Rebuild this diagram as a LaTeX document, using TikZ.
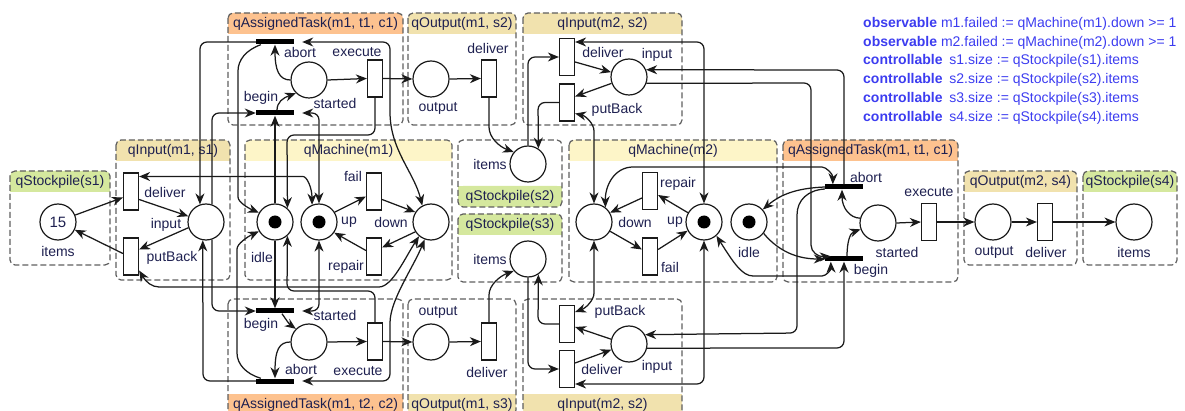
\documentclass[tikz,border=0pt]{standalone}
\usepackage{fontspec}
\setmainfont{Liberation Sans}
\usetikzlibrary{arrows.meta,calc}
\definecolor{hdrO}{HTML}{FDC28F}
\definecolor{hdrT}{HTML}{F1E2AE}
\definecolor{hdrY}{HTML}{FDF5C8}
\definecolor{hdrG}{HTML}{D5E89E}
\definecolor{bordc}{HTML}{5F5F5F}
\definecolor{lbc}{HTML}{1E2050}
\definecolor{obsc}{HTML}{3C3CF0}
\definecolor{arcc}{HTML}{1A1A1A}
\newcommand\lbfont{\fontsize{14}{16}\selectfont}
\newcommand\pnltop[7]{%
  \fill[#6, rounded corners=5pt] (#2,#3) rectangle (#4,{#3+21});
  \fill[#6] (#2,{#3+12}) rectangle (#4,{#3+21});
  \draw[bordc, line width=1.2pt, dash pattern=on 6pt off 3pt, rounded corners=5pt] (#2,#3) rectangle (#4,#5);
  \node[lb] (#1) at ({(#2+#4)/2},{#3+10.5}) {#7};}
\newcommand\pnlbot[7]{%
  \fill[#6, rounded corners=5pt] (#2,{#5-21}) rectangle (#4,#5);
  \fill[#6] (#2,{#5-21}) rectangle (#4,{#5-12});
  \draw[bordc, line width=1.2pt, dash pattern=on 6pt off 3pt, rounded corners=5pt] (#2,#3) rectangle (#4,#5);
  \node[lb] (#1) at ({(#2+#4)/2},{#5-10.5}) {#7};}
\tikzset{
  pl/.style={circle, draw=arcc, line width=1.2pt, fill=white, minimum size=36pt, inner sep=0pt},
  tk/.style={pl, path picture={\fill[black] (path picture bounding box.center) circle (6.5pt);}},
  tr/.style={rectangle, draw=arcc, line width=1.2pt, fill=white, minimum width=15pt, minimum height=37pt, inner sep=0pt},
  br/.style={rectangle, fill=black, minimum width=38pt, minimum height=5pt, inner sep=0pt},
  lb/.style={font=\lbfont, text=lbc, inner sep=0pt},
  obs/.style={font=\lbfont, text=obsc, inner sep=0pt, anchor=west},
  ar/.style={draw=arcc, line width=1.25pt, rounded corners=7pt, -{Stealth[length=11pt,width=9pt,inset=3.5pt]}},
  rar/.style={ar, {Stealth[length=11pt,width=9pt,inset=3.5pt]}-{Stealth[length=11pt,width=9pt,inset=3.5pt]}},
}
\begin{document}
\begin{tikzpicture}[x=1pt,y=-1pt]
\useasboundingbox (0,0) rectangle (1185,411);
% panels
\pnltop{h1}{10}{171}{110}{265}{hdrG}{qStockpile(s1)}
\pnltop{h2}{116}{140}{230}{280}{hdrT}{qInput(m1, s1)}
\pnltop{h3}{228}{13}{403}{125}{hdrO}{qAssignedTask(m1, t1, c1)}
\pnltop{h4}{408}{13}{516}{125}{hdrT}{qOutput(m1, s2)}
\pnltop{h5}{523}{13}{682}{125}{hdrT}{qInput(m2, s2)}
\pnltop{h6}{245}{140}{452}{280}{hdrY}{qMachine(m1)}
\pnlbot{h7}{458}{140}{562}{207}{hdrG}{qStockpile(s2)}
\pnltop{h8}{458}{214}{562}{282}{hdrG}{qStockpile(s3)}
\pnltop{h9}{569}{140}{777}{282}{hdrY}{qMachine(m2)}
\pnltop{h10}{783}{140}{958}{282}{hdrO}{qAssignedTask(m1, t1, c1)}
\pnltop{h11}{964}{171}{1077}{265}{hdrT}{qOutput(m2, s4)}
\pnltop{h12}{1083}{171}{1177}{265}{hdrG}{qStockpile(s4)}
\pnlbot{h13}{228}{299}{403}{415}{hdrO}{qAssignedTask(m1, t2, c2)}
\pnlbot{h14}{408}{299}{516}{415}{hdrT}{qOutput(m1, s3)}
\pnlbot{h15}{523}{299}{682}{415}{hdrT}{qInput(m2, s2)}
% nodes
\node[pl, text=lbc, font=\fontsize{15}{17}\selectfont] (s1) at (58,222) {15};
\node[tr] (dl1) at (131,191.5) {};
\node[tr] (pb1) at (131,256.5) {};
\node[pl] (in1) at (206,222) {};
\node[br] (abA) at (275,42) {};
\node[br] (bgA) at (275,113) {};
\node[pl] (stA) at (309,80) {};
\node[tr] (exA) at (375,78.5) {};
\node[pl] (ouA) at (431,79) {};
\node[tr] (dvA) at (489,78.5) {};
\node[tr] (dlB) at (567,57) {};
\node[tr] (pbB) at (567,102.5) {};
\node[pl] (inB) at (629,77) {};
\node[tk] (id1) at (275,222) {};
\node[tk] (up1) at (319,222) {};
\node[tr] (fa1) at (374,191.5) {};
\node[tr] (re1) at (374,256.5) {};
\node[pl] (dn1) at (431,222) {};
\node[pl] (it2) at (528,164) {};
\node[pl] (it3) at (528,259) {};
\node[pl] (dn2) at (594,222) {};
\node[tr] (reT) at (650,191) {};
\node[tr] (faT) at (650,256.5) {};
\node[tk] (up2) at (704,222) {};
\node[tk] (id2) at (749,222) {};
\node[br] (abM) at (844,187) {};
\node[br] (bgM) at (844,259) {};
\node[pl] (stM) at (878,223) {};
\node[tr] (exM) at (929,222) {};
\node[pl] (ouM) at (993,222) {};
\node[tr] (dvM) at (1045,222) {};
\node[pl] (it4) at (1134,222) {};
\node[br] (bgB) at (275,311) {};
\node[br] (abB) at (275,381) {};
\node[pl] (stB) at (309,342) {};
\node[tr] (exB) at (375,341.5) {};
\node[pl] (ouB) at (431,342) {};
\node[tr] (dvB) at (489,341.5) {};
\node[tr] (pbC) at (567,324) {};
\node[tr] (dlC) at (567,369) {};
\node[pl] (inC) at (629,344) {};
% connectors: stockpile s1 / qInput(m1,s1)
\draw[ar] (s1.22) -- ($(dl1.west)+(0,6)$);
\draw[ar] ($(pb1.west)+(0,-3)$) -- (s1.-25);
\draw[ar] ($(dl1.east)+(0,8)$) -- (in1.162);
\draw[ar] (in1.198) -- ($(pb1.east)+(0,-7)$);
\draw[rar] ($(dl1.east)+(0,-15)$) -- (296,176.5) .. controls (307,176.5) and (312,188) .. (up1.112);
\draw[rar] ($(pb1.east)+(0,14)$) .. controls (146,282) and (152,287) .. (166,287) -- (372,287) .. controls (392,287) and (405,258) .. (dn1.230);
% task A
\draw[ar] (stA.east) -- (exA.west);
\draw[ar] (exA.east) -- (ouA.west);
\draw[ar] (ouA.east) -- (dvA.west);
\draw[ar] ($(bgA.north)+(2,0)$) .. controls (277,102) and (283,98) .. (stA.225);
\draw[ar] (stA.west) .. controls (279,80) and (275,70) .. (abA.south);
\draw[ar] (dvA.south) -- (489,120) .. controls (489,138) and (500,147) .. (it2.140);
% m1 links
\draw[ar] (id1.north) -- (bgA.south);
\draw[ar] (id1.south) -- (bgB.north);
\draw[ar] (exA.south) -- (375,135) -- (287,135) -- (id1.48);
\draw[ar] (exB.north) -- (375,291) -- (287,291) -- (id1.-48);
\draw[ar] ($(abA.south west)+(5,0)$) .. controls (246,50) and (238,60) .. (238,78) -- (238,190) .. controls (238,202) and (248,208) .. (id1.150);
\draw[ar] ($(abB.north west)+(5,0)$) .. controls (246,374) and (237,364) .. (237,346) -- (237,256) .. controls (237,244) and (247,237) .. (id1.210);
\draw[ar] (abA.west) -- (200,42) -- (in1.109);
\draw[ar] (abB.west) -- (203,381) -- (in1.-100);
\draw[ar] (in1.71) -- (212,113) -- (bgA.west);
\draw[ar] (in1.-71) -- (212,311) -- (bgB.west);
\draw[rar] ($(bgA.east)+(8,0)$) -- (319,113) -- (up1.north);
\draw[rar] ($(bgB.east)+(8,0)$) -- (319,311) -- (up1.south);
\draw[rar] ($(abA.east)+(8,0)$) -- (390,42) -- (390,105) .. controls (390,150) and (414,172) .. (dn1.118);
\draw[rar] ($(abB.east)+(8,0)$) -- (390,381) -- (390,330) .. controls (390,300) and (413,268) .. (dn1.250);
% machine m1
\draw[ar] (up1.32) -- ($(fa1.west)+(0,5)$);
\draw[ar] ($(fa1.east)+(0,8)$) -- (dn1.148);
\draw[ar] (dn1.212) -- ($(re1.east)+(0,-9)$);
\draw[ar] ($(re1.west)+(0,-6)$) -- (up1.-35);
% task B
\draw[ar] ($(bgB.south)+(7,0)$) .. controls (285,318) and (289,324) .. (stB.135);
\draw[ar] (stB.west) .. controls (279,342) and (275,350) .. (abB.north);
\draw[ar] (stB.east) -- (exB.west);
\draw[ar] (exB.east) -- (ouB.west);
\draw[ar] (ouB.east) -- (dvB.west);
\draw[ar] (dvB.north) -- (489,302) .. controls (489,285) and (500,276) .. (it3.220);
% qInput(m2,s2) top
\draw[ar] (it2.north) -- (528,57) -- (dlB.west);
\draw[ar] (pbB.west) -- (538,102.5) -- (it2.56);
\draw[ar] ($(dlB.east)+(0,5)$) -- (inB.165);
\draw[ar] (inB.200) -- ($(pbB.east)+(0,-6)$);
\draw[rar] ($(dlB.east)+(0,-15)$) -- (704,42) -- (up2.north);
\draw[rar] ($(pbB.east)+(0,11)$) .. controls (586,116) and (594,124) .. (594,138) -- (dn2.north);
% qInput(m2,s2) bottom
\draw[ar] (it3.south) -- (528,369) -- (dlC.west);
\draw[ar] (pbC.west) -- (538,324) -- (it3.-56);
\draw[ar] ($(dlC.east)+(0,-6)$) -- (inC.198);
\draw[ar] (inC.165) -- ($(pbC.east)+(0,3)$);
\draw[rar] ($(dlC.east)+(0,15)$) -- (704,384) -- (up2.south);
\draw[rar] ($(pbC.east)+(0,-12)$) .. controls (586,308) and (594,300) .. (594,286) -- (dn2.south);
% machine m2
\draw[ar] (up2.150) -- ($(reT.east)+(0,4)$);
\draw[ar] ($(reT.west)+(0,7)$) -- (dn2.30);
\draw[ar] (dn2.-30) -- ($(faT.west)+(0,-7)$);
\draw[ar] ($(faT.east)+(0,-7)$) -- (up2.208);
% task M
\draw[ar] (abM.west) .. controls (800,188) and (782,193) .. (id2.42);
\draw[ar] (id2.-38) .. controls (775,247) and (792,259) .. (bgM.west);
\draw[rar] (up2.-48) .. controls (733,262) and (742,276) .. (760,276) -- (815,276) .. controls (826,276) and (831,270) .. ($(bgM.south west)+(6,0)$);
\draw[rar] (dn2.52) .. controls (605,185) and (615,167) .. (640,167) -- (815,167) .. controls (826,167) and (833,174) .. ($(abM.north west)+(8,0)$);
\draw[ar] (abM.north) -- (844,70) -- (inB.23);
\draw[ar] (inB.-20) -- (811,83) -- (811,238) .. controls (811,252) and (818,257) .. ($(bgM.north west)+(6,0)$);
\draw[ar] (inC.-13) -- (844,348) -- (bgM.south);
\draw[ar] ($(abM.west)+(0,2)$) .. controls (808,190) and (797,200) .. (797,222) -- (797,333) -- (inC.30);
\draw[ar] ($(bgM.north)+(3,0)$) .. controls (847,242) and (850,233) .. (stM.200);
\draw[ar] (stM.165) .. controls (850,218) and (842,208) .. ($(abM.south)+(-2,0)$);
\draw[ar] (stM.east) -- (exM.west);
\draw[ar] (exM.east) -- (ouM.west);
\draw[ar] (ouM.east) -- (dvM.west);
\draw[ar] (dvM.east) -- (it4.west);
% labels
\node[lb] (t1) at (58,251) {items};
\node[lb] (t2) at (165,192) {deliver};
\node[lb] (t3) at (166,225) {input};
\node[lb] (t4) at (172,258) {putBack};
\node[lb] (t5) at (300,52) {abort};
\node[lb] (t6) at (357,52) {execute};
\node[lb] (t7) at (261,98) {begin};
\node[lb] (t8) at (335,103) {started};
\node[lb] (t9) at (438,108) {output};
\node[lb] (t10) at (488,49) {deliver};
\node[lb] (t11) at (603,53) {deliver};
\node[lb] (t12) at (657,55) {input};
\node[lb] (t13) at (617,110) {putBack};
\node[lb] (t14) at (353,176) {fail};
\node[lb] (t15) at (349,222) {up};
\node[lb] (t16) at (391,222) {down};
\node[lb] (t17) at (262,257) {idle};
\node[lb] (t18) at (346,267) {repair};
\node[lb] (t19) at (490,164) {items};
\node[lb] (t20) at (490,259) {items};
\node[lb] (t21) at (678,184) {repair};
\node[lb] (t22) at (635,222) {down};
\node[lb] (t23) at (675,222) {up};
\node[lb] (t24) at (670,267) {fail};
\node[lb] (t25) at (749,252) {idle};
\node[lb] (t26) at (866,177) {abort};
\node[lb] (t27) at (929,192) {execute};
\node[lb] (t28) at (897,252) {started};
\node[lb] (t29) at (871,271) {begin};
\node[lb] (t30) at (994,252) {output};
\node[lb] (t31) at (1046,252) {deliver};
\node[lb] (t32) at (1134,252) {items};
\node[lb] (t33) at (261,325) {begin};
\node[lb] (t34) at (335,315) {started};
\node[lb] (t35) at (301,369) {abort};
\node[lb] (t36) at (358,371) {execute};
\node[lb] (t37) at (438,312) {output};
\node[lb] (t38) at (487,372) {deliver};
\node[lb] (t39) at (620,312) {putBack};
\node[lb] (t40) at (602,369) {deliver};
\node[lb] (t41) at (657,367) {input};
% observables
\node[obs] (o1) at (863,24) {\textbf{observable} m1.failed := qMachine(m1).down >= 1};
\node[obs] (o2) at (863,42.5) {\textbf{observable} m2.failed := qMachine(m2).down >= 1};
\node[obs] (o3) at (863,61) {\textbf{controllable}\hspace{3pt} s1.size := qStockpile(s1).items};
\node[obs] (o4) at (863,80) {\textbf{controllable}\hspace{3pt} s2.size := qStockpile(s2).items};
\node[obs] (o5) at (863,99) {\textbf{controllable}\hspace{3pt} s3.size := qStockpile(s3).items};
\node[obs] (o6) at (863,117.5) {\textbf{controllable}\hspace{3pt} s4.size := qStockpile(s4).items};
\end{tikzpicture}
\end{document}
